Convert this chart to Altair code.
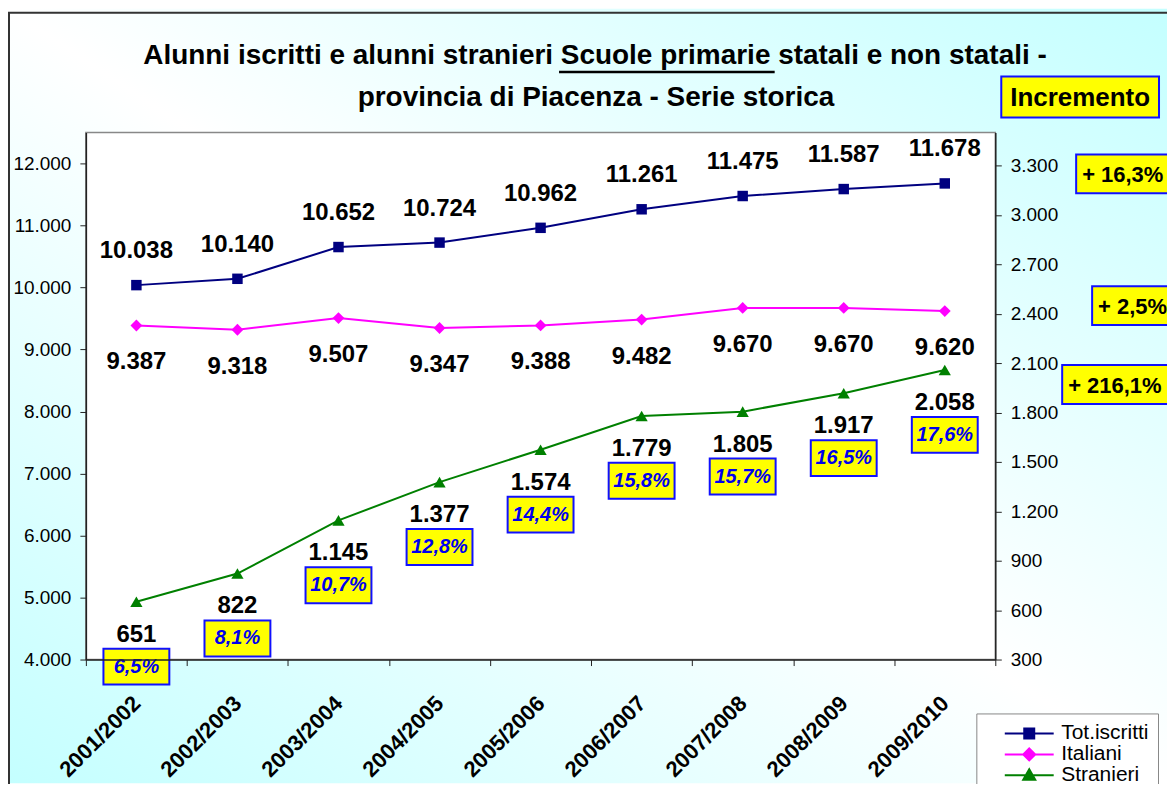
import altair as alt
import pandas as pd

# ---------------- data ----------------
anni = ["2001/2002", "2002/2003", "2003/2004", "2004/2005", "2005/2006",
        "2006/2007", "2007/2008", "2008/2009", "2009/2010"]
serie = ["Tot.iscritti", "Italiani", "Stranieri"]
tot = [10038, 10140, 10652, 10724, 10962, 11261, 11475, 11587, 11678]
italiani = [9387, 9318, 9507, 9347, 9388, 9482, 9670, 9670, 9620]
stranieri = [651, 822, 1145, 1377, 1574, 1779, 1805, 1917, 2058]
quota_stranieri = ["6,5%", "8,1%", "10,7%", "12,8%", "14,4%", "15,8%", "15,7%", "16,5%", "17,6%"]
incremento_titolo = ["Incremento"]
incrementi = ["+ 16,3%", "+ 2,5%", "+ 216,1%"]
left_ticks = [4000, 5000, 6000, 7000, 8000, 9000, 10000, 11000, 12000]
right_ticks = [300, 600, 900, 1200, 1500, 1800, 2100, 2400, 2700, 3000, 3300]
titolo = ["Alunni iscritti e alunni stranieri Scuole primarie statali e non statali -",
          "provincia di Piacenza - Serie storica"]
colori = ["#000080", "#ff00ff", "#008000"]
marker = ["square", "diamond", "triangle-up"]
marker_size = [110, 140, 150]

FONT = "Liberation Sans"
W, H = 911, 528
PAD = {"left": 78, "top": 124, "right": 172, "bottom": 124}

rows = []
for i, a in enumerate(anni):
    rows.append({"anno": a, "serie": "Tot.iscritti", "valore": tot[i]})
    rows.append({"anno": a, "serie": "Italiani", "valore": italiani[i]})
    rows.append({"anno": a, "serie": "Stranieri", "valore": stranieri[i], "quota": quota_stranieri[i]})
df = pd.DataFrame(rows)
one = pd.DataFrame({"k": [0]})

label_expr = "replace(format(datum.value, ','), ',', '.')"

x_enc = alt.X("anno:N", sort=anni,
              scale=alt.Scale(type="band", paddingInner=0, paddingOuter=0),
              axis=alt.Axis(title=None, tickBand="extent", labelAngle=-45,
                            labelAlign="right", labelBaseline="middle",
                            labelFontSize=22, labelFontWeight="bold",
                            labelPadding=34, tickSize=6, labelColor="black",
                            domainColor="#222", tickColor="#222", domainWidth=1.5,
                            zindex=2))

y_left = alt.Y("valore:Q", scale=alt.Scale(domain=[4000, 12500], nice=False, zero=False),
               axis=alt.Axis(orient="left", values=left_ticks, labelExpr=label_expr, title=None,
                             grid=False, tickSize=6, labelPadding=9, labelFontSize=19,
                             labelColor="black", domainColor="#222", tickColor="#222",
                             domainWidth=1.5, zindex=2))
y_right = alt.Y("valore:Q", scale=alt.Scale(domain=[300, 3500], nice=False, zero=False),
                axis=alt.Axis(orient="right", values=right_ticks, labelExpr=label_expr, title=None,
                              grid=False, tickSize=6, labelPadding=9, labelFontSize=19,
                              labelColor="black", domainColor="#222", tickColor="#222",
                              domainWidth=1.5, zindex=2))

base = alt.Chart(df).transform_calculate(
    lab="replace(format(datum.valore, ','), ',', '.')")


def only(name):
    return alt.FieldEqualPredicate(field="serie", equal=name)


def series_layers(i, y_enc, label_dy):
    b = base.transform_filter(only(serie[i]))
    line = b.mark_line(strokeWidth=2, color=colori[i]).encode(x=x_enc, y=y_enc)
    pts = b.mark_point(shape=marker[i], filled=True, size=marker_size[i], opacity=1,
                       color=colori[i]).encode(x=x_enc, y=y_enc)
    lab = b.mark_text(fontSize=24, fontWeight="bold", baseline="alphabetic", dy=label_dy,
                      color="black").encode(x=x_enc, y=y_enc, text="lab:N")
    return [line, pts, lab]


# ---- left-axis group: Tot.iscritti, Italiani ----
left_group = alt.layer(*series_layers(0, y_left, -27), *series_layers(1, y_left, 44))

# ---- right-axis group: Stranieri ----
str_base = base.transform_filter(only("Stranieri"))
box_path = "M-1,-0.545L1,-0.545L1,0.545L-1,0.545Z"
str_box = str_base.mark_point(shape=box_path, size=66 * 66, filled=True, fill="#ffff00",
                              stroke="#1010ff", strokeWidth=2, opacity=1, yOffset=65).encode(
    x=x_enc, y=y_right)
str_pct = str_base.mark_text(fontSize=20, fontWeight="bold", fontStyle="italic",
                             color="#0000ee", dy=65).encode(x=x_enc, y=y_right, text="quota:N")
right_group = alt.layer(*series_layers(2, y_right, 40), str_box, str_pct)

# ---- background / frames ----
grad = alt.Gradient(gradient="linear", x1=0, y1=1, x2=1, y2=0,
                    stops=[alt.GradientStop(color="#c4ffff", offset=0),
                           alt.GradientStop(color="#ffffff", offset=0.5),
                           alt.GradientStop(color="#c4ffff", offset=1)])
bg = alt.Chart(one).mark_rect(fill=grad).encode(
    x=alt.value(-PAD["left"]), x2=alt.value(W + PAD["right"]),
    y=alt.value(-PAD["top"]), y2=alt.value(H + PAD["bottom"]))
outer = alt.Chart(one).mark_rect(fill=None, fillOpacity=0, stroke="#333333", strokeWidth=2).encode(
    x=alt.value(-PAD["left"] + 1), x2=alt.value(W + 400),
    y=alt.value(-PAD["top"] + 4), y2=alt.value(H + 400))
plot_bg = alt.Chart(one).mark_rect(fill="white", stroke="#888888", strokeWidth=1.5).encode(
    x=alt.value(0), x2=alt.value(W), y=alt.value(0), y2=alt.value(H))

# ---- title ----
t1 = alt.Chart(one).mark_text(fontSize=28, fontWeight="bold", align="center",
                              baseline="alphabetic", color="black").encode(
    x=alt.value(510), y=alt.value(-69), text=alt.value(titolo[0]))
t2 = alt.Chart(one).mark_text(fontSize=28, fontWeight="bold", align="center",
                              baseline="alphabetic", color="black").encode(
    x=alt.value(511), y=alt.value(-26), text=alt.value(titolo[1]))
underline = alt.Chart(one).mark_rule(color="black", strokeWidth=2.5).encode(
    x=alt.value(474), x2=alt.value(690), y=alt.value(-60.5))

# ---- increment boxes ----
inc_box_pos = [(992, 22, 61), (1008, 154, 193), (978, 233, 272)]
inc_layers = []
head_box = alt.Chart(one).mark_rect(fill="#ffff00", stroke="#1010ff", strokeWidth=2).encode(
    x=alt.value(917), x2=alt.value(1075), y=alt.value(-56), y2=alt.value(-15))
head_txt = alt.Chart(one).mark_text(fontSize=26, fontWeight="bold", color="black",
                                    align="center", baseline="middle").encode(
    x=alt.value(996), y=alt.value(-35), text=alt.value(incremento_titolo[0]))
inc_layers += [head_box, head_txt]
for txt, (x0, y0, y1) in zip(incrementi, inc_box_pos):
    inc_layers.append(alt.Chart(one).mark_rect(fill="#ffff00", stroke="#1010ff", strokeWidth=2).encode(
        x=alt.value(x0), x2=alt.value(1150), y=alt.value(y0), y2=alt.value(y1)))
    inc_layers.append(alt.Chart(one).mark_text(fontSize=22, fontWeight="bold", color="black",
                                               align="left", baseline="middle").encode(
        x=alt.value(x0 + 6), y=alt.value((y0 + y1) / 2 + 1), text=alt.value(txt)))

# ---- legend layer (the only layer with legend channels) ----
leg_paths = [
    "M-2.45,0L2.45,0M-0.5,-0.5L0.5,-0.5L0.5,0.5L-0.5,0.5Z",
    "M-2.45,0L2.45,0M0,-0.6L0.6,0L0,0.6L-0.6,0Z",
    "M-2.45,0L2.45,0M0,-0.6L0.6,0.45L-0.6,0.45Z",
]
leg = alt.Legend(title=None, orient="none", legendX=892, legendY=582,
                 strokeColor="#888888", fillColor="white", padding=9,
                 labelFontSize=21, labelColor="black", labelFont=FONT,
                 symbolSize=400, symbolStrokeWidth=2, symbolOffset=33,
                 labelOffset=21, rowPadding=0, labelBaseline="middle", zindex=3)
legend_layer = alt.Chart(pd.DataFrame({"serie": serie})).mark_point(
    filled=True, size=400, strokeWidth=2, opacity=1).encode(
    x=alt.value(-5000), y=alt.value(-5000),
    fill=alt.Fill("serie:N", scale=alt.Scale(domain=serie, range=colori), legend=leg),
    stroke=alt.Stroke("serie:N", scale=alt.Scale(domain=serie, range=colori), legend=leg),
    shape=alt.Shape("serie:N", scale=alt.Scale(domain=serie, range=leg_paths), legend=leg))

chart = alt.layer(
    bg, outer, plot_bg, t1, t2, underline, *inc_layers,
    left_group, right_group, legend_layer
).resolve_scale(y="independent").properties(
    width=W, height=H, padding=PAD, autosize=alt.AutoSizeParams(type="none"),
    background="white"
).configure(font=FONT).configure_view(stroke=None).configure_axis(zindex=2).configure_legend(zindex=3)

chart.save("out.html", embed_options={"renderer": "svg", "actions": False})
